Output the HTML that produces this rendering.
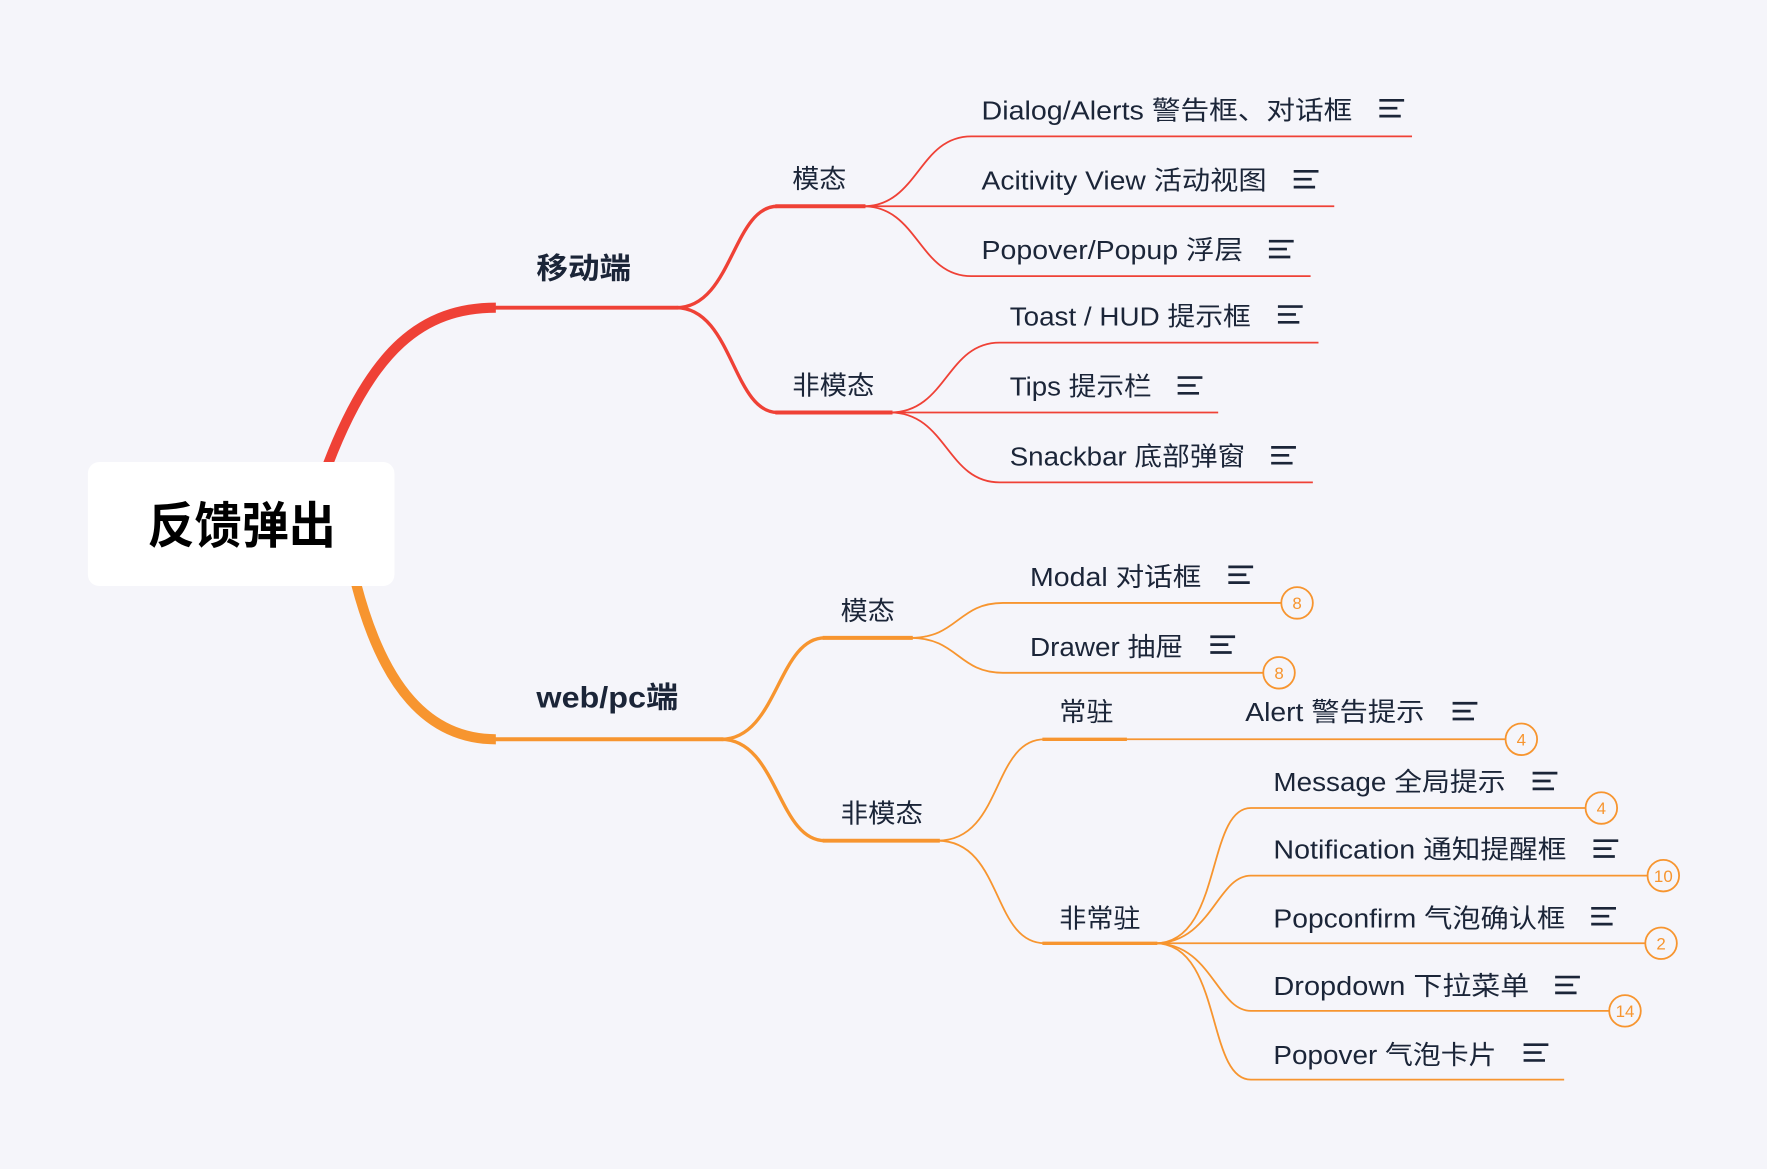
<!DOCTYPE html>
<html><head><meta charset="utf-8"><style>
html,body{margin:0;padding:0;background:#f5f5fa;}
svg{display:block;}
text{font-family:"Liberation Sans","Noto Sans CJK SC",sans-serif;fill:#1b2538;}
.t{font-size:23px;}
.b{font-size:26px;font-weight:bold;}
.r{fill:none;stroke:#ef4136;}
.o{fill:none;stroke:#f7952f;}
.ic{stroke:#1b2538;stroke-width:2.4;}
.bd{fill:#f5f5fa;stroke:#f7952f;stroke-width:1.6;}
.bt{font-size:15px;fill:#f7952f;text-anchor:middle;}
</style></head><body>
<svg width="1767" height="1169" viewBox="0 0 1568 1037.3" xmlns="http://www.w3.org/2000/svg">
<rect width="1568" height="1038" fill="#f5f5fa"/>
<defs>
<g id="ic"><line class="ic" x1="0" y1="0" x2="22" y2="0"/><line class="ic" x1="0" y1="7" x2="16" y2="7"/><line class="ic" x1="0" y1="14" x2="19" y2="14"/></g>
</defs>
<!-- main red -->
<path d="M291 412 C 330 310, 375 273, 440 273" fill="none" stroke="#ef4136" stroke-width="9"/>
<line x1="438" y1="273" x2="602" y2="273" stroke="#ef4136" stroke-width="3.5"/>
<path class="r" stroke-width="3" d="M600 273 C 650 273, 650 183, 690 183"/>
<path class="r" stroke-width="3" d="M600 273 C 650 273, 650 366, 690 366"/>
<line x1="688" y1="183" x2="768" y2="183" stroke="#ef4136" stroke-width="3.5"/>
<line x1="688" y1="366" x2="792" y2="366" stroke="#ef4136" stroke-width="3.5"/>
<!-- red leaves -->
<path class="r" stroke-width="1.6" d="M766 183 C 815 183, 815 121, 862 121 L1253 121"/>
<path class="r" stroke-width="1.6" d="M766 183 L1184 183"/>
<path class="r" stroke-width="1.6" d="M766 183 C 815 183, 815 245, 862 245 L1163 245"/>
<path class="r" stroke-width="1.6" d="M790 366 C 840 366, 840 304, 887 304 L1170 304"/>
<path class="r" stroke-width="1.6" d="M790 366 L1081 366"/>
<path class="r" stroke-width="1.6" d="M790 366 C 840 366, 840 428, 887 428 L1165 428"/>
<!-- main orange -->
<path d="M316 518 C 340 610, 380 656, 440 656" fill="none" stroke="#f7952f" stroke-width="9"/>
<line x1="438" y1="656" x2="642" y2="656" stroke="#f7952f" stroke-width="3.5"/>
<path class="o" stroke-width="3" d="M640 656 C 690 656, 690 566, 732 566"/>
<path class="o" stroke-width="3" d="M640 656 C 690 656, 690 746, 732 746"/>
<line x1="730" y1="566" x2="810" y2="566" stroke="#f7952f" stroke-width="3.5"/>
<line x1="730" y1="746" x2="834" y2="746" stroke="#f7952f" stroke-width="3.5"/>
<!-- web modal leaves -->
<path class="o" stroke-width="1.6" d="M808 566 C 850 566, 850 535, 890 535 L1137 535"/>
<path class="o" stroke-width="1.6" d="M808 566 C 850 566, 850 597, 890 597 L1121 597"/>
<!-- non-modal -->
<path class="o" stroke-width="1.6" d="M832 746 C 890 746, 880 656, 927 656"/>
<path class="o" stroke-width="1.6" d="M832 746 C 890 746, 880 837, 927 837"/>
<line x1="925" y1="656" x2="1000" y2="656" stroke="#f7952f" stroke-width="3"/>
<line x1="998" y1="656" x2="1336" y2="656" stroke="#f7952f" stroke-width="1.6"/>
<line x1="925" y1="837" x2="1027" y2="837" stroke="#f7952f" stroke-width="3"/>
<path class="o" stroke-width="1.6" d="M1025 837 C 1085 837, 1070 717, 1110 717 L1407 717"/>
<path class="o" stroke-width="1.6" d="M1025 837 C 1075 837, 1080 777, 1110 777 L1462 777"/>
<path class="o" stroke-width="1.6" d="M1025 837 L1460 837"/>
<path class="o" stroke-width="1.6" d="M1025 837 C 1075 837, 1080 897, 1110 897 L1428 897"/>
<path class="o" stroke-width="1.6" d="M1025 837 C 1085 837, 1070 958, 1110 958 L1388 958"/>
<!-- badges -->
<circle class="bd" cx="1151" cy="535" r="14"/><text class="bt" x="1151" y="540.5">8</text>
<circle class="bd" cx="1135" cy="597" r="14"/><text class="bt" x="1135" y="602.5">8</text>
<circle class="bd" cx="1350" cy="656" r="14"/><text class="bt" x="1350" y="661.5">4</text>
<circle class="bd" cx="1421" cy="717" r="14"/><text class="bt" x="1421" y="722.5">4</text>
<circle class="bd" cx="1476" cy="777" r="14"/><text class="bt" x="1476" y="782.5">10</text>
<circle class="bd" cx="1474" cy="837" r="14"/><text class="bt" x="1474" y="842.5">2</text>
<circle class="bd" cx="1442" cy="897" r="14"/><text class="bt" x="1442" y="902.5">14</text>
<!-- root -->
<rect x="78" y="410" width="272" height="110" rx="10" fill="#ffffff"/>
<text x="131" y="482" style="font-size:44px;font-weight:bold;fill:#000" textLength="167" lengthAdjust="spacingAndGlyphs">反馈弹出</text>
<!-- main labels -->
<text class="b" x="476" y="247" textLength="84" lengthAdjust="spacingAndGlyphs">移动端</text>
<text class="b" x="476" y="628" textLength="126" lengthAdjust="spacingAndGlyphs">web/pc端</text>
<text class="t" x="703" y="167" textLength="48" lengthAdjust="spacingAndGlyphs">模态</text>
<text class="t" x="703" y="350" textLength="73" lengthAdjust="spacingAndGlyphs">非模态</text>
<text class="t" x="746" y="550" textLength="48" lengthAdjust="spacingAndGlyphs">模态</text>
<text class="t" x="746" y="730" textLength="73" lengthAdjust="spacingAndGlyphs">非模态</text>
<text class="t" x="940" y="640" textLength="48" lengthAdjust="spacingAndGlyphs">常驻</text>
<text class="t" x="940" y="823" textLength="72" lengthAdjust="spacingAndGlyphs">非常驻</text>
<!-- leaves -->
<text class="t" x="871" y="106" textLength="329" lengthAdjust="spacingAndGlyphs">Dialog/Alerts 警告框、对话框</text>
<use href="#ic" x="1224" y="89"/>
<text class="t" x="871" y="168" textLength="253" lengthAdjust="spacingAndGlyphs">Acitivity View 活动视图</text>
<use href="#ic" x="1148" y="152"/>
<text class="t" x="871" y="230" textLength="232" lengthAdjust="spacingAndGlyphs">Popover/Popup 浮层</text>
<use href="#ic" x="1126" y="214"/>
<text class="t" x="896" y="289" textLength="214" lengthAdjust="spacingAndGlyphs">Toast / HUD 提示框</text>
<use href="#ic" x="1134" y="272"/>
<text class="t" x="896" y="351" textLength="126" lengthAdjust="spacingAndGlyphs">Tips 提示栏</text>
<use href="#ic" x="1045" y="335"/>
<text class="t" x="896" y="413" textLength="209" lengthAdjust="spacingAndGlyphs">Snackbar 底部弹窗</text>
<use href="#ic" x="1128" y="397"/>
<text class="t" x="914" y="520" textLength="152" lengthAdjust="spacingAndGlyphs">Modal 对话框</text>
<use href="#ic" x="1090" y="503"/>
<text class="t" x="914" y="582" textLength="136" lengthAdjust="spacingAndGlyphs">Drawer 抽屉</text>
<use href="#ic" x="1074" y="565"/>
<text class="t" x="1105" y="640" textLength="159" lengthAdjust="spacingAndGlyphs">Alert 警告提示</text>
<use href="#ic" x="1289" y="624"/>
<text class="t" x="1130" y="702" textLength="206" lengthAdjust="spacingAndGlyphs">Message 全局提示</text>
<use href="#ic" x="1360" y="686"/>
<text class="t" x="1130" y="762" textLength="260" lengthAdjust="spacingAndGlyphs">Notification 通知提醒框</text>
<use href="#ic" x="1414" y="746"/>
<text class="t" x="1130" y="823" textLength="259" lengthAdjust="spacingAndGlyphs">Popconfirm 气泡确认框</text>
<use href="#ic" x="1412" y="806"/>
<text class="t" x="1130" y="883" textLength="227" lengthAdjust="spacingAndGlyphs">Dropdown 下拉菜单</text>
<use href="#ic" x="1380" y="867"/>
<text class="t" x="1130" y="944" textLength="198" lengthAdjust="spacingAndGlyphs">Popover 气泡卡片</text>
<use href="#ic" x="1352" y="927"/>
</svg>
</body></html>
